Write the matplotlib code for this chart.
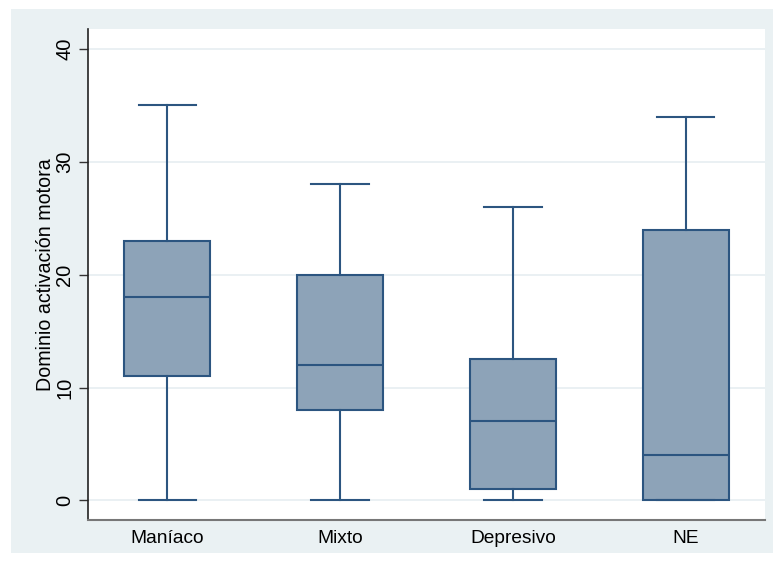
import matplotlib
matplotlib.use('Agg')
import matplotlib.pyplot as plt

# Box summaries per group
groups = ['Maníaco', 'Mixto', 'Depresivo', 'NE']
whisker_low = [0, 0, 0, 0]
q1 = [11, 8, 1, 0]
median = [18, 12, 7, 4]
q3 = [23, 20, 12.5, 24]
whisker_high = [35, 28, 26, 34]
y_ticks = [0, 10, 20, 30, 40]

plt.rcParams['font.family'] = ['Liberation Sans', 'DejaVu Sans']

fill_color = '#8DA3B8'
line_color = '#2C5580'
bg_color = '#EAF1F3'

fig = plt.figure(figsize=(7.73, 5.63), dpi=100)
fig.patch.set_facecolor('white')

# shaded graph region behind the plot
bg = fig.add_axes([11 / 773, 1 - 553 / 563, 762 / 773, 544 / 563], zorder=-1)
bg.set_facecolor(bg_color)
bg.set_xticks([])
bg.set_yticks([])
for s in bg.spines.values():
    s.set_visible(False)

ax = fig.add_axes([88 / 773, 1 - 520 / 563, 677 / 773, 491 / 563], zorder=1)
ax.set_facecolor('white')

stats = []
for i, g in enumerate(groups):
    stats.append({'label': g, 'whislo': whisker_low[i], 'q1': q1[i],
                  'med': median[i], 'q3': q3[i], 'whishi': whisker_high[i],
                  'fliers': []})

ax.bxp(stats, positions=[1, 2, 3, 4], widths=0.5, patch_artist=True,
       showfliers=False,
       boxprops=dict(facecolor=fill_color, edgecolor=line_color, linewidth=1.5),
       medianprops=dict(color=line_color, linewidth=1.5),
       whiskerprops=dict(color=line_color, linewidth=1.5),
       capprops=dict(color=line_color, linewidth=1.5),
       capwidths=0.33)

ax.set_xlim(0.543, 4.457)
ax.set_ylim(-1.73, 41.77)
ax.set_yticks(y_ticks)
ax.set_yticklabels([str(t) for t in y_ticks], rotation=90, va='center')
ax.yaxis.grid(True, color='#E6EEF1', linewidth=1.2)
ax.set_axisbelow(True)

ax.tick_params(axis='y', direction='out', length=6.5, width=1, color='#333333',
               labelsize=14.5, pad=3.5)
ax.tick_params(axis='x', length=0, labelsize=13.8, pad=7)

ax.set_ylabel('Dominio activación motora', fontsize=14.1, labelpad=0)

for side in ['top', 'right']:
    ax.spines[side].set_visible(False)
ax.spines['left'].set_color('#222222')
ax.spines['bottom'].set_color('#777777')
ax.spines['left'].set_linewidth(1.2)
ax.spines['bottom'].set_linewidth(1.5)

plt.savefig('out.png', dpi=100)
plt.close()
